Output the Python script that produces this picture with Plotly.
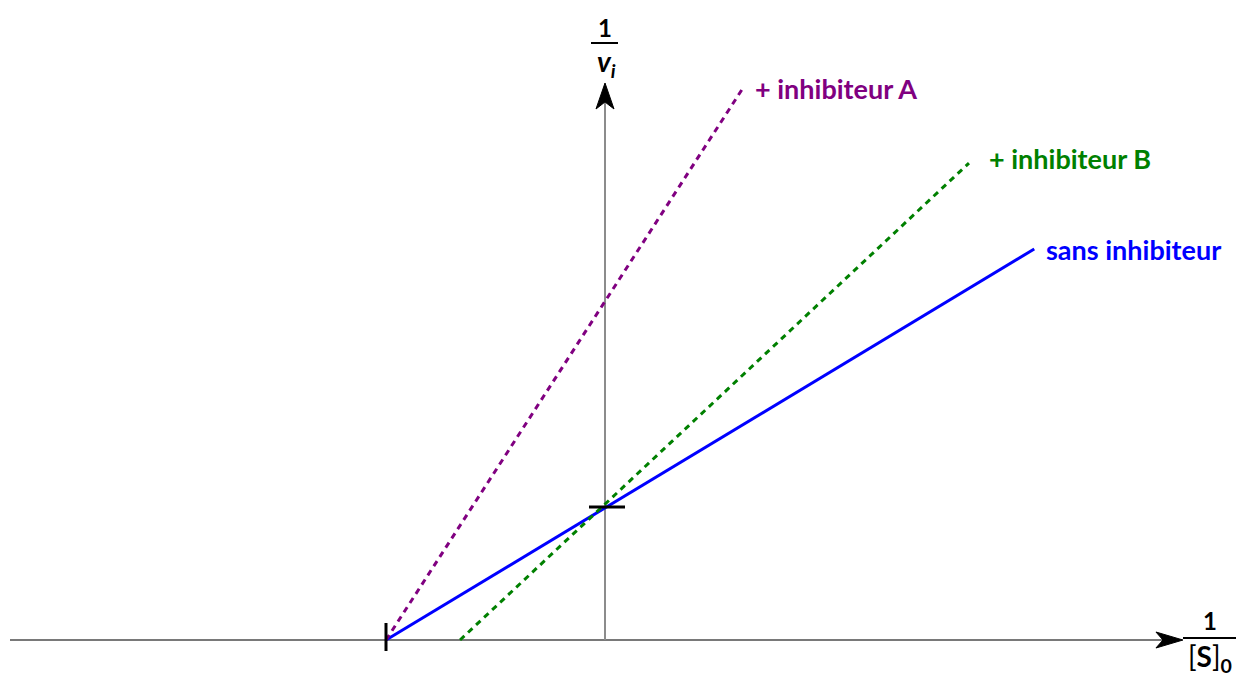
import plotly.graph_objects as go

# Lineweaver-Burk double reciprocal plot: 1/vi versus 1/[S]0
W, H = 1245, 677
X_RANGE = [-2.7626, 2.9224]
Y_RANGE = [-0.2782, 4.812]

# straight lines, given by their two end points (reciprocal units)
sans_x = [-1.0, 1.96]
sans_y = [0.0, 2.94]
inhA_x = [-1.0, 0.626]
inhA_y = [0.0, 4.14]
inhB_x = [-0.662, 1.662]
inhB_y = [0.0, 3.586]

# marked intercepts: -1/Km on the x axis, 1/Vmax on the y axis
km_mark = -1.0
vmax_mark = 1.0

# extent of the drawn axes
x_axis_start, x_axis_end = -2.717, 2.639
y_axis_end = 4.188

BLUE, PURPLE, GREEN = "#0000ff", "#800080", "#008000"
FONT = "Lato"

sx = W / (X_RANGE[1] - X_RANGE[0])   # pixels per x unit
sy = H / (Y_RANGE[1] - Y_RANGE[0])   # pixels per y unit


def dx(p):
    return p / sx


def dy(p):
    return p / sy


def px_x(p):
    return X_RANGE[0] + p / sx


def px_y(p):
    return Y_RANGE[1] - p / sy


fig = go.Figure()

series = [
    (sans_x, sans_y, BLUE, "solid", "sans inhibiteur", 10, -1),
    (inhA_x, inhA_y, PURPLE, "6px,5px", "+ inhibiteur A", 11, 1),
    (inhB_x, inhB_y, GREEN, "6px,5px", "+ inhibiteur B", 18, 5),
]

for xs, ys, col, dash, name, xs_shift, ys_shift in series:
    fig.add_trace(go.Scatter(x=xs, y=ys, mode="lines", name=name,
                             line=dict(color=col, width=3, dash=dash),
                             hoverinfo="skip"))
    fig.add_annotation(x=xs[-1], y=ys[-1], xref="x", yref="y",
                       text=f"<b>{name}</b>", showarrow=False,
                       xanchor="left", yanchor="middle",
                       xshift=xs_shift, yshift=ys_shift,
                       font=dict(family=FONT, size=27, color=col))

shapes = []
# x axis line and arrow head
shapes.append(dict(type="line", xref="x", yref="y", layer="below",
                   x0=x_axis_start, x1=x_axis_end - dx(20), y0=0, y1=0,
                   line=dict(color="#4d4d4d", width=1.5)))
tip, back, notch, hw = x_axis_end, x_axis_end - dx(27), x_axis_end - dx(20), dy(8)
shapes.append(dict(type="path", xref="x", yref="y",
                   path=f"M {tip},0 L {back},{hw} L {notch},0 L {back},{-hw} Z",
                   fillcolor="black", line=dict(color="black", width=1)))
# y axis line and arrow head
shapes.append(dict(type="line", xref="x", yref="y", layer="below",
                   x0=0, x1=0, y0=0, y1=y_axis_end - dy(20),
                   line=dict(color="#8c8c8c", width=2)))
tip, back, notch, hw = y_axis_end, y_axis_end - dy(26), y_axis_end - dy(19), dx(9)
shapes.append(dict(type="path", xref="x", yref="y",
                   path=f"M 0,{tip} L {hw},{back} L 0,{notch} L {-hw},{back} Z",
                   fillcolor="black", line=dict(color="black", width=1)))
# intercept ticks
shapes.append(dict(type="line", xref="x", yref="y",
                   x0=km_mark, x1=km_mark, y0=-dy(11), y1=dy(17),
                   line=dict(color="black", width=3)))
shapes.append(dict(type="line", xref="x", yref="y",
                   x0=-dx(16), x1=dx(20), y0=vmax_mark, y1=vmax_mark,
                   line=dict(color="black", width=3)))

# fraction bars of the axis titles
shapes.append(dict(type="line", xref="x", yref="y",
                   x0=px_x(591), x1=px_x(618), y0=px_y(43), y1=px_y(43),
                   line=dict(color="black", width=2)))
shapes.append(dict(type="line", xref="x", yref="y",
                   x0=px_x(1183), x1=px_x(1236), y0=px_y(638), y1=px_y(638),
                   line=dict(color="black", width=2)))

fig.update_layout(shapes=shapes)

# axis titles written as fractions
titles = [
    ("<b>1</b>", 605, 27, 24),
    ("<b><i>v</i></b><sub><b><i>i</i></b></sub>", 606, 63, 28),
    ("<b>1</b>", 1210, 620, 24),
    ("[<b>S</b>]<sub><b>0</b></sub>", 1210, 658, 28),
]
for txt, xp, yp, size in titles:
    fig.add_annotation(x=px_x(xp), y=px_y(yp), xref="x", yref="y",
                       text=txt, showarrow=False,
                       xanchor="center", yanchor="middle",
                       font=dict(family=FONT, size=size, color="black"))

fig.update_xaxes(range=X_RANGE, visible=False, fixedrange=True)
fig.update_yaxes(range=Y_RANGE, visible=False, fixedrange=True)
fig.update_layout(width=W, height=H, margin=dict(l=0, r=0, t=0, b=0),
                  paper_bgcolor="white", plot_bgcolor="white",
                  showlegend=False)

fig.write_html("out.html", config={"displayModeBar": False})
